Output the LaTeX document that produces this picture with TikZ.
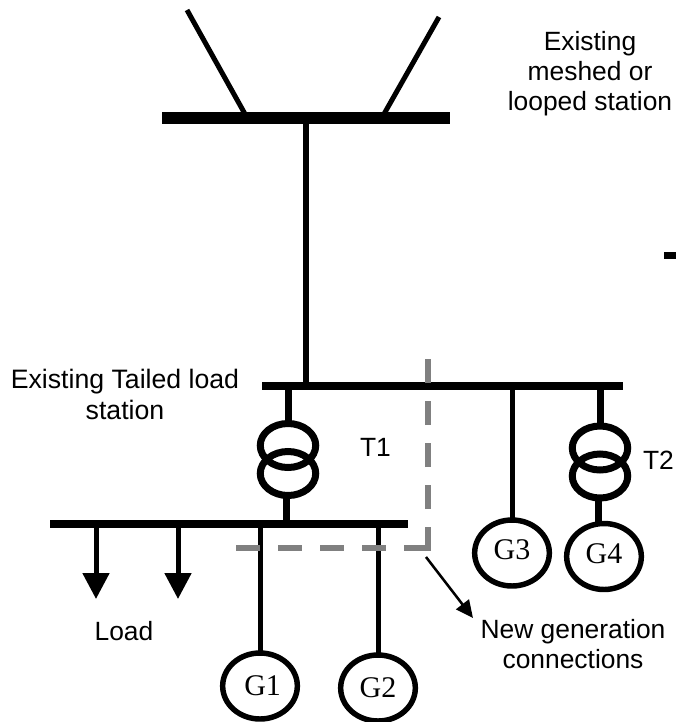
\documentclass[tikz,border=0pt]{standalone}
\usepackage{fontspec}
\setmainfont{Liberation Sans}
\newfontfamily\gfont{Liberation Serif}
\usetikzlibrary{arrows.meta,shapes.geometric}
\tikzset{
  busbar/.style={rectangle,fill=black,inner sep=0pt,outer sep=0pt},
  wire/.style={line width=3.75pt,black},
  stub/.style={line width=5.25pt,black},
  trafo/.style={ellipse,draw=black,line width=5.25pt,inner sep=0pt,outer sep=0pt,minimum width=41.6pt,minimum height=33pt},
  gen/.style={ellipse,draw=black,line width=4.1pt,inner sep=0pt,outer sep=0pt,minimum width=56pt,minimum height=49.5pt,font=\gfont\fontsize{22.5}{24}\selectfont},
  lbl/.style={align=center,inner sep=0pt,font=\fontsize{19.8}{22.5}\selectfont},
  newconn/.style={line width=4.5pt,draw={rgb,255:red,128;green,128;blue,128},dash pattern=on 18pt off 13.5pt},
  loadarrow/.style={wire,-{Triangle[length=19.5pt,width=19.5pt]}},
  pointer/.style={line width=1.9pt,black,-{Triangle[length=13pt,width=12pt]}}
}
\begin{document}
\begin{tikzpicture}[x=.75pt,y=-.75pt]
\useasboundingbox (0,0) rectangle (676,722);
% bus bars
\node[busbar,minimum width=216pt,minimum height=9pt] (bus1) at (306,118) {};
\node[busbar,minimum width=270.75pt,minimum height=6pt] (bus2) at (442.5,386) {};
\node[busbar,minimum width=268.5pt,minimum height=6pt] (bus3) at (229,524) {};
\node[busbar,minimum width=9pt,minimum height=5.25pt] (mark) at (670,255.5) {};
% feeders of the top station
\coordinate (f1) at (187,10);
\coordinate (f2) at (439,17);
\coordinate (f1b) at (245,114);
\coordinate (f2b) at (384,114);
\draw[wire] (f1) -- (f1b);
\draw[wire] (f2) -- (f2b);
\draw[line width=4.1pt] (bus1.south) -- (bus2.north -| bus1.south);
% transformers
\node[trafo] (t1a) at (288,445.5) {};
\node[trafo] (t1b) at (288,473.5) {};
\node[trafo] (t2a) at (600,448) {};
\node[trafo] (t2b) at (600,476) {};
\draw[stub] (t1a.north) -- (t1a.north |- bus2.south);
\draw[stub] ([xshift=-1.5pt]t1b.south) -- ([xshift=-1.5pt]t1b.south |- bus3.north);
\draw[stub] (t2a.north) -- (t2a.north |- bus2.south);
% generators
\node[gen] (g1) at (260,686) {\hspace*{4pt}\raisebox{-1.5pt}{G1}};
\node[gen] (g2) at (378,688) {\raisebox{-1pt}{G2}};
\node[gen] (g3) at (512,553) {\raisebox{4.5pt}{G3}};
\node[gen] (g4) at (604,556.5) {\raisebox{4pt}{G4}};
\draw[wire] (g1.north) -- (g1.north |- bus3.south);
\draw[wire] (g2.north) -- (g2.north |- bus3.south);
\draw[wire] (g3.north) -- (g3.north |- bus2.south);
\draw[stub] (598,500) -- (598,522);
% loads
\coordinate (l1) at (96,599);
\coordinate (l2) at (178,599);
\draw[loadarrow] (l1 |- bus3.south) -- (l1);
\draw[loadarrow] (l2 |- bus3.south) -- (l2);
% new generation boundary
\coordinate (c0) at (236,548);
\coordinate (c1) at (431,548);
\coordinate (c2) at (428,551);
\coordinate (c3) at (428,353);
\draw[newconn] (c0) -- (c1);
\draw[newconn] (c2) -- (c3);
% pointer
\coordinate (p0) at (426,557);
\coordinate (p1) at (473,618);
\draw[pointer] (p0) -- (p1);
% labels
\node[lbl] (tA) at (590,74) {Existing\\meshed or\\looped station};
\node[lbl,font=\fontsize{20}{23.25}\selectfont] (tB) at (125,394) {Existing Tailed load\\station};
\node[lbl] (tC) at (124,631) {Load};
\node[lbl] (tD) at (573,644) {New generation\\connections};
\node[lbl] (tE) at (375.5,447) {T1};
\node[lbl] (tF) at (658.5,460) {T2};
\end{tikzpicture}
\end{document}
